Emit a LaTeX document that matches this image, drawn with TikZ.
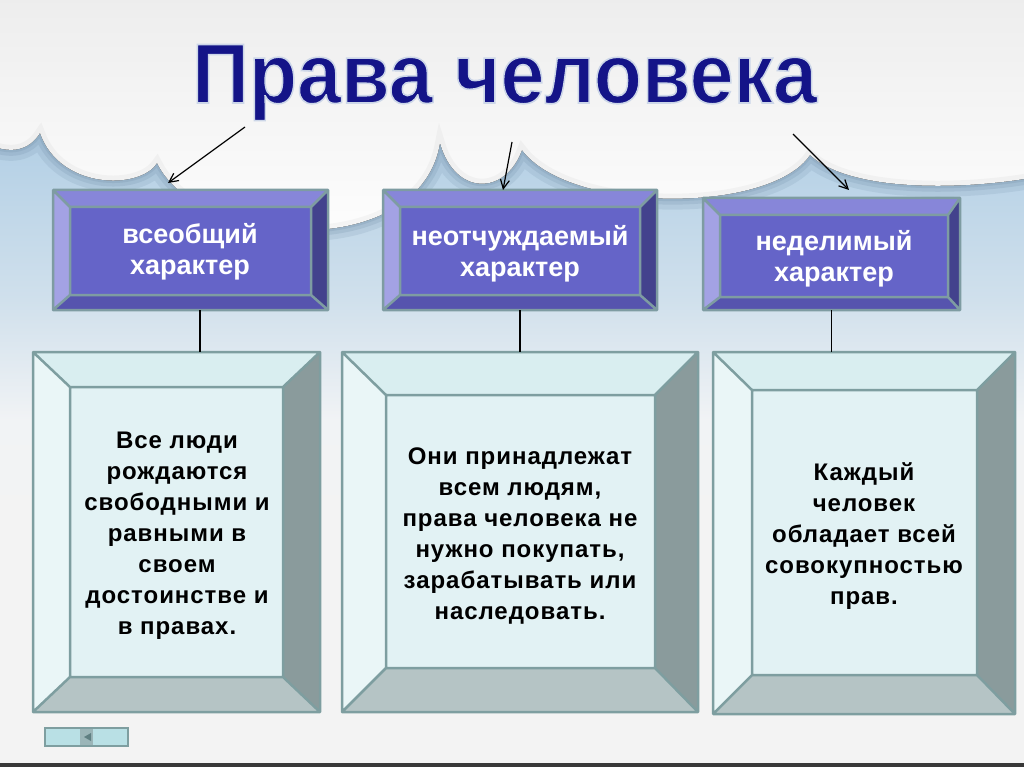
\documentclass[tikz,border=0pt]{standalone}
\usepackage{fontspec}
\setmainfont{Liberation Sans}
\usetikzlibrary{arrows.meta,calc}
\definecolor{ptop}{HTML}{8786D9}
\definecolor{pleft}{HTML}{A3A2E4}
\definecolor{pright}{HTML}{43428D}
\definecolor{pbot}{HTML}{5654AE}
\definecolor{pface}{HTML}{6564C8}
\definecolor{pline}{HTML}{7E9CA2}
\definecolor{ctop}{HTML}{D9EEF0}
\definecolor{cleft}{HTML}{EAF6F7}
\definecolor{cright}{HTML}{8A9B9C}
\definecolor{cbot}{HTML}{B5C4C5}
\definecolor{cface}{HTML}{E2F2F4}
\definecolor{cline}{HTML}{7E9EA0}
\definecolor{navy}{HTML}{141488}
\definecolor{skyA}{HTML}{ADCCE4}
\definecolor{skyB}{HTML}{D0E0EC}
\definecolor{skyC}{HTML}{F1F3F5}
\definecolor{pagebg}{HTML}{F3F3F3}
\definecolor{skyshadow}{HTML}{6F8CA6}
\definecolor{cloudtop}{HTML}{EDEDED}
\definecolor{navbtn}{HTML}{B9E0E5}
\definecolor{navmid}{HTML}{9BB5B8}
\definecolor{navtri}{HTML}{5F7F82}

\newcommand\bevelbox[3]{%
  \fill[#3top] (#1.north west) -- (#1.north east) -- (#2.north east) -- (#2.north west) -- cycle;
  \fill[#3left] (#1.north west) -- (#2.north west) -- (#2.south west) -- (#1.south west) -- cycle;
  \fill[#3right] (#1.north east) -- (#1.south east) -- (#2.south east) -- (#2.north east) -- cycle;
  \fill[#3bot] (#1.south west) -- (#1.south east) -- (#2.south east) -- (#2.south west) -- cycle;
  \fill[#3face] (#2.north west) rectangle (#2.south east);
  \draw[#3line, line width=2.5pt, line join=round]
    (#1.north west) rectangle (#1.south east)
    (#2.north west) rectangle (#2.south east)
    (#1.north west) -- (#2.north west) (#1.north east) -- (#2.north east)
    (#1.south west) -- (#2.south west) (#1.south east) -- (#2.south east);
}
% outlined title text (fill + stroke render mode)
\newcommand\outlinedtext[1]{\special{pdf:literal 2 Tr 1.6 w 0.80 0.84 0.91 RG}#1\special{pdf:literal 0 Tr}}

\def\cloudedge{(1030,178) .. controls (960,190) and (850,192) .. (810,155)
  .. controls (770,214) and (570,214) .. (522,150)
  .. controls (505,196) and (455,196) .. (440,143)
  .. controls (420,262) and (200,250) .. (157,163)
  .. controls (140,190) and (60,190) .. (40,133)
  .. controls (28,152) and (10,152) .. (-5,147)}
\def\cloudpath{(-5,-5) -- (1030,-5) -- (1030,178) .. controls (960,190) and (850,192) .. (810,155)
  .. controls (770,214) and (570,214) .. (522,150)
  .. controls (505,196) and (455,196) .. (440,143)
  .. controls (420,262) and (200,250) .. (157,163)
  .. controls (140,190) and (60,190) .. (40,133)
  .. controls (28,152) and (10,152) .. (-5,147) -- cycle}

\begin{document}
\begin{tikzpicture}[x=1pt,y=-1pt,
  box/.style={rectangle, inner sep=0pt, outer sep=0pt},
  toptext/.style={font=\bfseries\fontsize{27}{31}\selectfont, align=center, inner sep=0pt, text=white},
  bodytext/.style={font=\bfseries\fontsize{24}{31}\selectfont\addfontfeature{LetterSpace=4}, align=center, inner sep=0pt, text=black},
  titlefont/.style={font=\bfseries\fontsize{85}{90}\selectfont, anchor=base, inner sep=0pt},
  conn/.style={line width=1.3pt, black},
  arr/.style={line width=1.2pt, black, -{Straight Barb[length=9pt,width=9pt]}},
]
\useasboundingbox (0,0) rectangle (1024,767);

% background
\fill[pagebg] (0,0) rectangle (1024,767);
\shade[top color=skyA, bottom color=skyB] (0,100) rectangle (1024,300.5);
\shade[top color=skyB, bottom color=skyC] (0,300) rectangle (1024,420);
\shade[top color=skyC, bottom color=pagebg] (0,419.5) rectangle (1024,520);

% cloud shadow on the sky
\draw[skyshadow, line width=22pt, opacity=0.16, line join=round] \cloudedge;
\draw[skyshadow, line width=12pt, opacity=0.2, line join=round] \cloudedge;
\draw[skyshadow, line width=5pt, opacity=0.22, line join=round] \cloudedge;

% cloud
\fill[top color=cloudtop, bottom color=white] \cloudpath;
\begin{scope}
  \clip \cloudpath;
  \draw[black!30, line width=10pt, opacity=0.10] \cloudedge;
\end{scope}

% bottom bar and navigation button
\fill[black!78] (0,763) rectangle (1024,767);
\fill[navbtn] (45,728) rectangle (128,746);
\fill[navmid] (80,728) rectangle (93,746);
\fill[navtri] (84,737) -- (91,733) -- (91,741) -- cycle;
\draw[cline, line width=1.5pt] (45,728) rectangle (128,746);

% title
\node[titlefont, text=navy] (title) at (504.5,103) {\scalebox{0.93}[1]{\outlinedtext{Права человека}}};

% top boxes
\node[box, minimum width=275, minimum height=120] (b1) at (190.5,250) {};
\node[box, minimum width=241, minimum height=88] (f1) at (190.5,251) {};
\node[box, minimum width=274, minimum height=120] (b2) at (520,250) {};
\node[box, minimum width=240, minimum height=88] (f2) at (520,251) {};
\node[box, minimum width=257, minimum height=112] (b3) at (831.5,254) {};
\node[box, minimum width=228, minimum height=82] (f3) at (834,256) {};
\bevelbox{b1}{f1}{p}
\bevelbox{b2}{f2}{p}
\bevelbox{b3}{f3}{p}

% bottom boxes
\node[box, minimum width=287, minimum height=360] (d1) at (176.5,532) {};
\node[box, minimum width=213, minimum height=290] (g1) at (176.5,532) {};
\node[box, minimum width=356, minimum height=360] (d2) at (520,532) {};
\node[box, minimum width=269, minimum height=273] (g2) at (520.5,531.5) {};
\node[box, minimum width=302, minimum height=362] (d3) at (864,533) {};
\node[box, minimum width=225, minimum height=285] (g3) at (864.5,532.5) {};
\bevelbox{d1}{g1}{c}
\bevelbox{d2}{g2}{c}
\bevelbox{d3}{g3}{c}

% top box texts
\node[toptext] (l1) at (190,252) {всеобщий\\характер};
\node[toptext] (l2) at (520,254) {неотчуждаемый\\характер};
\node[toptext] (l3) at (834,259) {неделимый\\характер};

% body texts
\node[bodytext] (m1) at (177,536) {Все люди\\рождаются\\свободными и\\равными в\\своем\\достоинстве и\\в правах.};
\node[bodytext] (m2) at (520,536) {Они принадлежат\\всем людям,\\права человека не\\нужно покупать,\\зарабатывать или\\наследовать.};
\node[bodytext] (m3) at (864,536) {Каждый\\человек\\обладает всей\\совокупностью\\прав.};

% arrows from the title
\coordinate (a1) at (245,127);
\coordinate (a2) at (512,142);
\coordinate (a3) at (793,134);
\draw[arr] (a1) -- ($(b1.north)+(-22.5,-7)$);
\draw[arr] (a2) -- ($(b2.north)+(-17,0)$);
\draw[arr] (a3) -- ($(b3.north)+(17.5,-8)$);

% connectors
\coordinate (c1) at ($(b1.south)+(9.5,0)$);
\draw[conn] (c1) -- (c1 |- d1.north);
\draw[conn] (b2.south) -- (b2.south |- d2.north);
\draw[conn] (b3.south) -- (b3.south |- d3.north);
\end{tikzpicture}
\end{document}
